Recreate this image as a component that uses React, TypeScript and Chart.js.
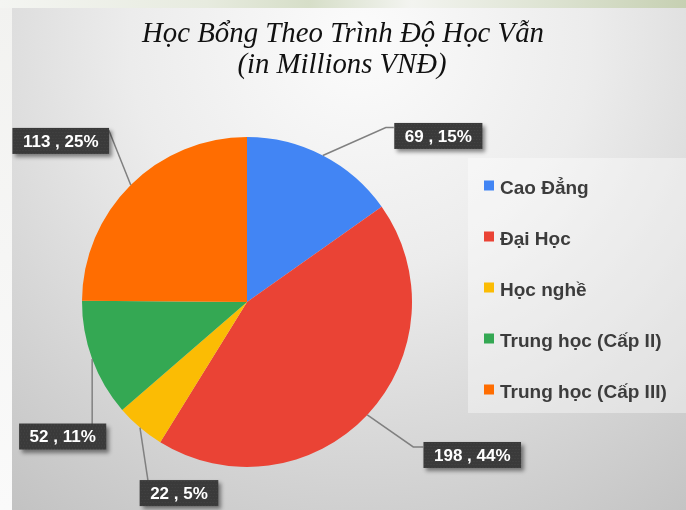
import React, { useEffect, useRef } from 'react';
import { Chart, registerables } from 'chart.js';

Chart.register(...registerables);

const LABELS = ['Cao Đẳng', 'Đại Học', 'Học nghề', 'Trung học (Cấp II)', 'Trung học (Cấp III)'];
const VALUES = [69, 198, 22, 52, 113];
const COLORS = ['#4285F4', '#EA4335', '#FBBC04', '#34A853', '#FF6D01'];
const TITLE_LINES = ['Học Bổng Theo Trình Độ Học Vẫn', '(in Millions VNĐ)'];

const W = 686;
const H = 510;

// Callout placement relative to each slice's outer-edge anchor (style only)
const CALLOUTS: { box: [number, number]; leader: [number, number][] }[] = [
  { box: [115.5, -19.5], leader: [[63, -28], [71, -28]] },
  { box: [105, 40], leader: [[46, 32], [56, 32]] },
  { box: [39, 65.5], leader: [[8, 53]] },
  { box: [-29.5, 77.5], leader: [[0, 65]] },
  { box: [-70, -44], leader: [[-22, -55]] },
];

const backgroundPlugin = {
  id: 'bgPanel',
  beforeDraw(chart: any) {
    const ctx = chart.ctx as CanvasRenderingContext2D;
    ctx.save();
    const top = ctx.createLinearGradient(0, 0, W, 0);
    top.addColorStop(0, '#f4f5f2');
    top.addColorStop(0.3, '#e7ebdf');
    top.addColorStop(0.45, '#d6dec8');
    top.addColorStop(0.6, '#f3f4f0');
    top.addColorStop(0.8, '#dde3d2');
    top.addColorStop(1, '#c6d0b2');
    ctx.fillStyle = top;
    ctx.fillRect(0, 0, W, H);
    const left = ctx.createLinearGradient(0, 0, 0, H);
    left.addColorStop(0, '#f2f2f0');
    left.addColorStop(1, '#fafafa');
    ctx.fillStyle = left;
    ctx.fillRect(0, 8, 12, H);
    const g = ctx.createRadialGradient(360, 40, 10, 360, 40, 640);
    g.addColorStop(0, '#fbfbfb');
    g.addColorStop(0.35, '#ececec');
    g.addColorStop(0.7, '#d2d2d2');
    g.addColorStop(1, '#bcbcbc');
    ctx.fillStyle = g;
    ctx.fillRect(12, 8, W - 12, H - 8);
    ctx.restore();
  },
};

const titleLegendPlugin = {
  id: 'titleLegend',
  beforeDatasetsDraw(chart: any) {
    const ctx = chart.ctx as CanvasRenderingContext2D;
    ctx.save();
    ctx.fillStyle = '#111111';
    ctx.font = 'italic 30px "Liberation Serif", serif';
    ctx.textAlign = 'center';
    ctx.textBaseline = 'alphabetic';
    ctx.fillText(TITLE_LINES[0], 343, 42, 402);
    ctx.fillText(TITLE_LINES[1], 342, 73, 209);

    ctx.fillStyle = 'rgba(255,255,255,0.38)';
    ctx.fillRect(468, 158, W - 468, 255);
    const labels: string[] = chart.data.labels;
    const colors: string[] = chart.data.datasets[0].backgroundColor;
    ctx.textAlign = 'left';
    ctx.font = 'bold 19px "Liberation Sans", Arial, sans-serif';
    labels.forEach((lab, i) => {
      const cy = 185.5 + i * 51;
      ctx.fillStyle = colors[i];
      ctx.fillRect(484, cy - 5, 10, 10);
      ctx.fillStyle = '#3c3c3c';
      ctx.fillText(lab, 500, cy + 8.5);
    });
    ctx.restore();
  },
};

const calloutPlugin = {
  id: 'callouts',
  afterDatasetsDraw(chart: any) {
    const ctx = chart.ctx as CanvasRenderingContext2D;
    const meta = chart.getDatasetMeta(0);
    const data: number[] = chart.data.datasets[0].data;
    const total = data.reduce((a, b) => a + b, 0);
    ctx.save();
    meta.data.forEach((arc: any, i: number) => {
      const { x, y, startAngle, endAngle, outerRadius } = arc.getProps(
        ['x', 'y', 'startAngle', 'endAngle', 'outerRadius'],
        true
      );
      const mid = (startAngle + endAngle) / 2;
      const ax = x + Math.cos(mid) * outerRadius;
      const ay = y + Math.sin(mid) * outerRadius;
      const c = CALLOUTS[i];
      ctx.strokeStyle = '#808080';
      ctx.lineWidth = 1.5;
      ctx.beginPath();
      ctx.moveTo(ax, ay);
      c.leader.forEach(([dx, dy]) => ctx.lineTo(ax + dx, ay + dy));
      ctx.stroke();
      const text = `${data[i]} , ${Math.round((data[i] / total) * 100)}%`;
      ctx.font = 'bold 17px "Liberation Sans", Arial, sans-serif';
      const tw = ctx.measureText(text).width;
      const bw = tw + 21;
      const bh = 26;
      const cx = ax + c.box[0];
      const cy = ay + c.box[1];
      const bx = cx - bw / 2;
      const by = cy - bh / 2;
      ctx.save();
      ctx.shadowColor = 'rgba(0,0,0,0.45)';
      ctx.shadowBlur = 4;
      ctx.shadowOffsetX = 3;
      ctx.shadowOffsetY = 3;
      ctx.fillStyle = '#3a3a3a';
      ctx.fillRect(bx, by, bw, bh);
      ctx.restore();
      ctx.fillStyle = 'rgba(255,255,255,0.07)';
      for (let py = by + 1; py < by + bh; py += 3) {
        for (let px = bx + 1 + ((py - by) % 2); px < bx + bw; px += 3) {
          ctx.fillRect(px, py, 1, 1);
        }
      }
      ctx.fillStyle = '#ffffff';
      ctx.textAlign = 'center';
      ctx.textBaseline = 'middle';
      ctx.fillText(text, cx, cy + 1);
    });
    ctx.restore();
  },
};

export default function App() {
  const ref = useRef<HTMLCanvasElement | null>(null);
  useEffect(() => {
    document.body.style.margin = '0';
    const canvas = ref.current;
    if (!canvas) return;
    const chart = new Chart(canvas, {
      type: 'pie',
      data: {
        labels: LABELS,
        datasets: [
          {
            data: VALUES,
            backgroundColor: COLORS,
            borderWidth: 0,
            hoverOffset: 0,
            offset: 0,
          },
        ],
      },
      options: {
        responsive: false,
        animation: false,
        events: [],
        layout: { padding: { left: 82, right: 274, top: 137, bottom: 43 } },
        plugins: {
          legend: { display: false },
          title: { display: false },
          tooltip: { enabled: false },
        },
      },
      plugins: [backgroundPlugin, titleLegendPlugin, calloutPlugin],
    } as any);
    return () => chart.destroy();
  }, []);
  return (
    <div style={{ width: W, height: H }}>
      <canvas ref={ref} width={W} height={H} style={{ display: 'block', width: W, height: H }} />
    </div>
  );
}
